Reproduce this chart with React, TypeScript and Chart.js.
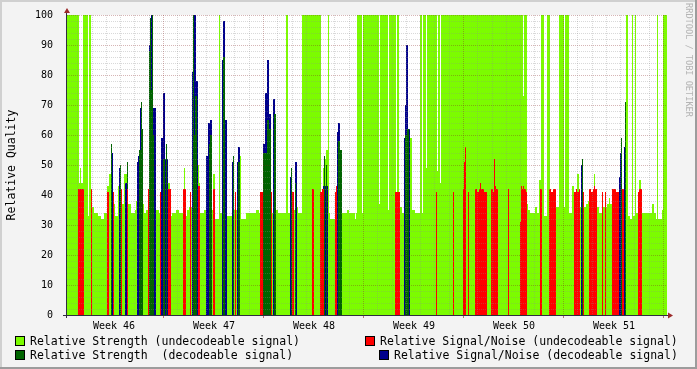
import React, { useEffect, useRef } from 'react';
import { Chart, registerables } from 'chart.js';

Chart.register(...registerables);

// x axis: RRD consolidation steps (100 steps per week), 600 steps shown
const SAMPLE_COUNT = 600;
const FIRST_WEEK_BOUNDARY = 96;
const STEPS_PER_WEEK = 100;
const weekLabels = ['Week 46', 'Week 47', 'Week 48', 'Week 49', 'Week 50', 'Week 51'];
const weekLabelPos = [47, 147, 247, 347, 447, 547];
const yMin = 0;
const yMax = 100;
const yLabelStep = 10;
const yGridStep = 2;

// Each series: step start (sample index) and value held from that step on
const strengthUndecX = [0, 12, 13, 14, 16, 21, 22, 24, 25, 27, 31, 34, 37, 40, 42, 44, 46, 48, 51, 54, 57, 61, 64, 68, 69, 72, 75, 77, 79, 81, 89, 92, 94, 101, 103, 105, 109, 112, 117, 118, 120, 122, 131, 132, 133, 137, 139, 140, 146, 148, 152, 153, 159, 165, 173, 174, 179, 189, 192, 209, 211, 219, 221, 223, 229, 231, 235, 254, 256, 257, 259, 261, 262, 263, 268, 280, 282, 288, 289, 290, 295, 296, 312, 313, 321, 322, 329, 330, 332, 335, 343, 345, 348, 353, 355, 356, 359, 360, 370, 371, 373, 374, 456, 457, 460, 461, 463, 468, 470, 472, 474, 477, 480, 483, 489, 492, 497, 498, 502, 505, 507, 510, 512, 519, 521, 527, 528, 532, 535, 540, 542, 543, 546, 559, 561, 563, 565, 566, 568, 569, 572, 574, 585, 587, 589, 590, 591, 595, 596];
const strengthUndecY = [100, 44, 49, 44, 100, 33, 100, 35, 36, 34, 33, 32, 34, 43, 47, 36, 37, 33, 43, 37, 47, 37, 34, 35, 38, 36, 37, 34, 35, 36, 35, 34, 35, 44, 33, 34, 35, 34, 49, 33, 35, 36, 50, 44, 34, 35, 47, 35, 47, 32, 100, 34, 33, 35, 53, 32, 34, 35, 34, 35, 34, 100, 34, 35, 36, 34, 100, 34, 49, 52, 55, 100, 34, 32, 34, 35, 34, 32, 34, 100, 34, 100, 37, 100, 35, 100, 40, 100, 36, 34, 59, 35, 34, 100, 34, 100, 49, 100, 48, 100, 44, 100, 73, 100, 37, 35, 34, 36, 34, 45, 100, 33, 100, 34, 36, 100, 36, 100, 34, 43, 36, 47, 36, 37, 38, 47, 36, 34, 36, 37, 39, 37, 36, 100, 33, 32, 100, 33, 100, 34, 45, 34, 37, 34, 32, 100, 32, 35, 100];

const strengthDecX = [0, 44, 45, 53, 54, 60, 61, 72, 74, 75, 76, 82, 83, 84, 85, 86, 87, 96, 98, 99, 100, 126, 127, 128, 130, 142, 143, 145, 156, 158, 166, 167, 171, 173, 196, 200, 202, 204, 207, 209, 224, 225, 228, 229, 257, 258, 259, 260, 271, 273, 275, 338, 340, 342, 515, 516, 554, 555, 558, 559];
const strengthDecY = [0, 57, 0, 50, 0, 51, 0, 55, 71, 62, 0, 88, 99, 75, 100, 60, 0, 52, 0, 57, 0, 100, 60, 73, 0, 57, 60, 0, 86, 0, 53, 0, 51, 0, 54, 65, 62, 0, 67, 0, 49, 0, 44, 0, 53, 0, 50, 0, 58, 55, 0, 60, 62, 0, 52, 0, 59, 0, 71, 0];

const snrUndecX = [0, 11, 17, 24, 25, 40, 42, 46, 47, 54, 55, 60, 61, 81, 82, 93, 94, 101, 104, 116, 119, 123, 124, 131, 133, 146, 148, 168, 169, 193, 196, 204, 205, 225, 227, 245, 247, 253, 255, 257, 268, 269, 270, 328, 333, 369, 370, 386, 387, 396, 397, 398, 399, 401, 402, 408, 410, 412, 413, 414, 417, 420, 424, 426, 427, 428, 429, 431, 441, 442, 453, 454, 455, 456, 457, 459, 460, 473, 475, 482, 484, 486, 489, 507, 509, 510, 512, 513, 516, 517, 522, 524, 526, 527, 528, 530, 535, 536, 538, 539, 545, 549, 552, 555, 557, 571, 572, 575];
const snrUndecY = [0, 42, 0, 42, 0, 41, 0, 41, 0, 42, 0, 42, 0, 42, 0, 41, 0, 42, 0, 42, 0, 41, 0, 43, 0, 42, 0, 41, 0, 41, 0, 41, 0, 41, 0, 42, 0, 41, 42, 0, 41, 43, 0, 41, 0, 41, 0, 41, 0, 42, 51, 56, 0, 41, 0, 42, 41, 42, 44, 42, 41, 0, 42, 41, 52, 43, 42, 0, 42, 0, 31, 43, 42, 43, 42, 41, 0, 42, 0, 42, 41, 42, 0, 41, 42, 41, 42, 0, 41, 0, 42, 41, 42, 43, 42, 0, 41, 0, 41, 0, 42, 41, 0, 42, 0, 41, 42, 0];

const snrDecX = [0, 45, 46, 52, 53, 58, 60, 70, 71, 73, 74, 82, 84, 86, 89, 94, 96, 98, 101, 125, 126, 129, 131, 139, 141, 143, 145, 155, 156, 158, 160, 165, 167, 170, 171, 173, 196, 198, 200, 202, 204, 206, 208, 223, 225, 228, 230, 256, 261, 270, 271, 273, 275, 337, 338, 339, 341, 343, 514, 516, 552, 553, 555, 557, 559];
const snrDecY = [0, 54, 0, 49, 0, 44, 0, 51, 53, 69, 0, 90, 100, 69, 0, 59, 74, 52, 0, 81, 100, 78, 0, 53, 64, 65, 0, 85, 98, 65, 0, 51, 0, 51, 56, 0, 57, 74, 85, 67, 0, 72, 0, 46, 0, 51, 0, 43, 0, 61, 64, 49, 0, 59, 70, 90, 62, 0, 50, 0, 46, 54, 0, 56, 0];

const legendItems = [
  { text: 'Relative Strength (undecodeable signal)', color: '#7cfc00', box: [15, 336], textX: 30, textTop: 335 },
  { text: 'Relative Strength  (decodeable signal)', color: '#006400', box: [15, 350], textX: 30, textTop: 349 },
  { text: 'Relative Signal/Noise (undecodeable signal)', color: '#ff0000', box: [365, 336], textX: 380, textTop: 335 },
  { text: 'Relative Signal/Noise (decodeable signal)', color: '#00008c', box: [379, 350], textX: 394, textTop: 349 },
];

const MONO = "'DejaVu Sans Mono', monospace";
const MINOR_GRID = 'rgba(140,140,140,0.33)';
const MAJOR_GRID = 'rgba(130,30,30,0.33)';

function steps(xs: number[], ys: number[]) {
  const pts = xs.map((x, i) => ({ x, y: ys[i] }));
  pts.push({ x: SAMPLE_COUNT, y: ys[ys.length - 1] });
  return pts;
}

const rrdPlugin = {
  id: 'rrdDecor',
  beforeDraw(chart: any) {
    const { ctx, chartArea: a } = chart;
    ctx.save();
    ctx.fillStyle = '#f3f3f3';
    ctx.fillRect(0, 0, chart.width, chart.height);
    ctx.fillStyle = '#ffffff';
    ctx.fillRect(a.left, a.top, a.right - a.left, a.bottom - a.top);
    ctx.restore();
  },
  afterDatasetsDraw(chart: any) {
    const { ctx, chartArea: a, scales } = chart;
    const xs = scales.x;
    const ys = scales.y;
    ctx.save();
    ctx.lineWidth = 1;
    ctx.setLineDash([1, 1]);
    for (let v = yMin + yGridStep; v <= yMax; v += yGridStep) {
      const y = Math.round(ys.getPixelForValue(v)) + 0.5;
      ctx.strokeStyle = v % yLabelStep === 0 ? MAJOR_GRID : MINOR_GRID;
      ctx.beginPath();
      ctx.moveTo(a.left, y);
      ctx.lineTo(a.right, y);
      ctx.stroke();
    }
    for (let k = -7; k <= 36; k++) {
      const idx = FIRST_WEEK_BOUNDARY + (k * STEPS_PER_WEEK) / 7;
      if (idx <= 0 || idx >= SAMPLE_COUNT) continue;
      const x = Math.round(xs.getPixelForValue(idx)) + 0.5;
      ctx.strokeStyle = k % 7 === 0 ? MAJOR_GRID : MINOR_GRID;
      ctx.beginPath();
      ctx.moveTo(x, a.top);
      ctx.lineTo(x, a.bottom);
      ctx.stroke();
    }
    ctx.setLineDash([]);
    // week ticks below axis
    for (let w = 0; w < 6; w++) {
      const idx = FIRST_WEEK_BOUNDARY + w * STEPS_PER_WEEK;
      const x = Math.round(xs.getPixelForValue(idx)) + 0.5;
      ctx.strokeStyle = 'rgba(130,30,30,0.6)';
      ctx.beginPath();
      ctx.moveTo(x, a.bottom + 1);
      ctx.lineTo(x, a.bottom + 3);
      ctx.stroke();
    }
    // axes
    ctx.strokeStyle = '#2e2e3e';
    ctx.beginPath();
    ctx.moveTo(a.left - 4, a.bottom + 0.5);
    ctx.lineTo(a.right + 2, a.bottom + 0.5);
    ctx.stroke();
    ctx.beginPath();
    ctx.moveTo(a.left - 0.5, a.bottom + 3);
    ctx.lineTo(a.left - 0.5, a.top - 3);
    ctx.stroke();
    // arrows
    ctx.fillStyle = '#9c2a2a';
    ctx.beginPath();
    ctx.moveTo(a.left, a.top - 7);
    ctx.lineTo(a.left - 3, a.top - 2);
    ctx.lineTo(a.left + 3, a.top - 2);
    ctx.closePath();
    ctx.fill();
    ctx.beginPath();
    ctx.moveTo(a.right + 6, a.bottom + 0.5);
    ctx.lineTo(a.right + 1, a.bottom - 2.5);
    ctx.lineTo(a.right + 1, a.bottom + 3.5);
    ctx.closePath();
    ctx.fill();
    ctx.restore();
  },
};

export default function App() {
  const canvasRef = useRef<HTMLCanvasElement | null>(null);

  useEffect(() => {
    const canvas = canvasRef.current;
    if (!canvas) return;
    const ds = (label: string, xs: number[], ys: number[], color: string, order: number) => ({
      label,
      data: steps(xs, ys),
      stepped: 'before' as const,
      fill: 'origin',
      backgroundColor: color,
      borderColor: 'rgba(0,0,0,0)',
      borderWidth: 0,
      pointRadius: 0,
      pointHoverRadius: 0,
      tension: 0,
      order,
    });
    const chart = new Chart(canvas, {
      type: 'line',
      data: {
        datasets: [
          ds('Relative Strength (undecodeable signal)', strengthUndecX, strengthUndecY, '#7cfc00', 4),
          ds('Relative Signal/Noise (decodeable signal)', snrDecX, snrDecY, '#00008c', 3),
          ds('Relative Strength  (decodeable signal)', strengthDecX, strengthDecY, '#006400', 2),
          ds('Relative Signal/Noise (undecodeable signal)', snrUndecX, snrUndecY, '#ff0000', 1),
        ] as any,
      },
      options: {
        animation: false,
        responsive: false,
        devicePixelRatio: 1,
        events: [],
        layout: { autoPadding: false, padding: { left: 0, top: 15, right: 30, bottom: 0 } } as any,
        plugins: {
          legend: { display: false },
          tooltip: { enabled: false },
          title: { display: false },
        },
        scales: {
          x: {
            type: 'linear',
            min: 0,
            max: SAMPLE_COUNT,
            grid: { display: false },
            border: { display: false },
            afterFit: (scale: any) => {
              scale.height = 54;
            },
            afterBuildTicks: (scale: any) => {
              scale.ticks = weekLabelPos.map((v) => ({ value: v }));
            },
            ticks: {
              autoSkip: false,
              maxRotation: 0,
              minRotation: 0,
              padding: -3,
              color: '#000000',
              font: { family: MONO, size: 10 },
              callback: (_v: any, i: number) => weekLabels[i],
            },
          },
          y: {
            type: 'linear',
            min: yMin,
            max: yMax,
            grid: { display: false },
            border: { display: false },
            afterFit: (scale: any) => {
              scale.width = 67;
            },
            ticks: {
              stepSize: yLabelStep,
              padding: 6,
              color: '#000000',
              font: { family: MONO, size: 10 },
            },
          },
        } as any,
      },
      plugins: [rrdPlugin],
    });
    return () => chart.destroy();
  }, []);

  const textStyle: React.CSSProperties = {
    position: 'absolute',
    fontFamily: MONO,
    fontSize: '11.5px',
    lineHeight: '12px',
    color: '#000',
    whiteSpace: 'pre',
  };

  return (
    <div style={{ position: 'fixed', left: 0, top: 0, width: 697, height: 369, background: '#f3f3f3', overflow: 'hidden' }}>
      <canvas ref={canvasRef} width={697} height={369} style={{ position: 'absolute', left: 0, top: 0, width: 697, height: 369 }} />
      <div style={{ position: 'absolute', left: 0, top: 0, width: 697, height: 2, background: '#d0d0d0' }} />
      <div style={{ position: 'absolute', left: 0, top: 0, width: 2, height: 369, background: '#d0d0d0' }} />
      <div style={{ position: 'absolute', left: 0, top: 367, width: 697, height: 2, background: '#9c9c9c' }} />
      <div style={{ position: 'absolute', left: 695, top: 0, width: 2, height: 369, background: '#9c9c9c' }} />
      <div
        style={{
          ...textStyle,
          left: 11,
          top: 165,
          transform: 'translate(-50%, -50%) rotate(-90deg)',
        }}
      >
        Relative Quality
      </div>
      <div
        style={{
          ...textStyle,
          fontSize: '8.6px',
          lineHeight: '9px',
          color: '#b4b4b4',
          left: 688,
          top: 60,
          transform: 'translate(-50%, -50%) rotate(90deg)',
        }}
      >
        RRDTOOL / TOBI OETIKER
      </div>
      {legendItems.map((it) => (
        <React.Fragment key={it.text}>
          <div
            style={{
              position: 'absolute',
              left: it.box[0],
              top: it.box[1],
              width: 10,
              height: 10,
              boxSizing: 'border-box',
              border: '1px solid #000',
              background: it.color,
            }}
          />
          <div style={{ ...textStyle, left: it.textX, top: it.textTop }}>{it.text}</div>
        </React.Fragment>
      ))}
    </div>
  );
}
